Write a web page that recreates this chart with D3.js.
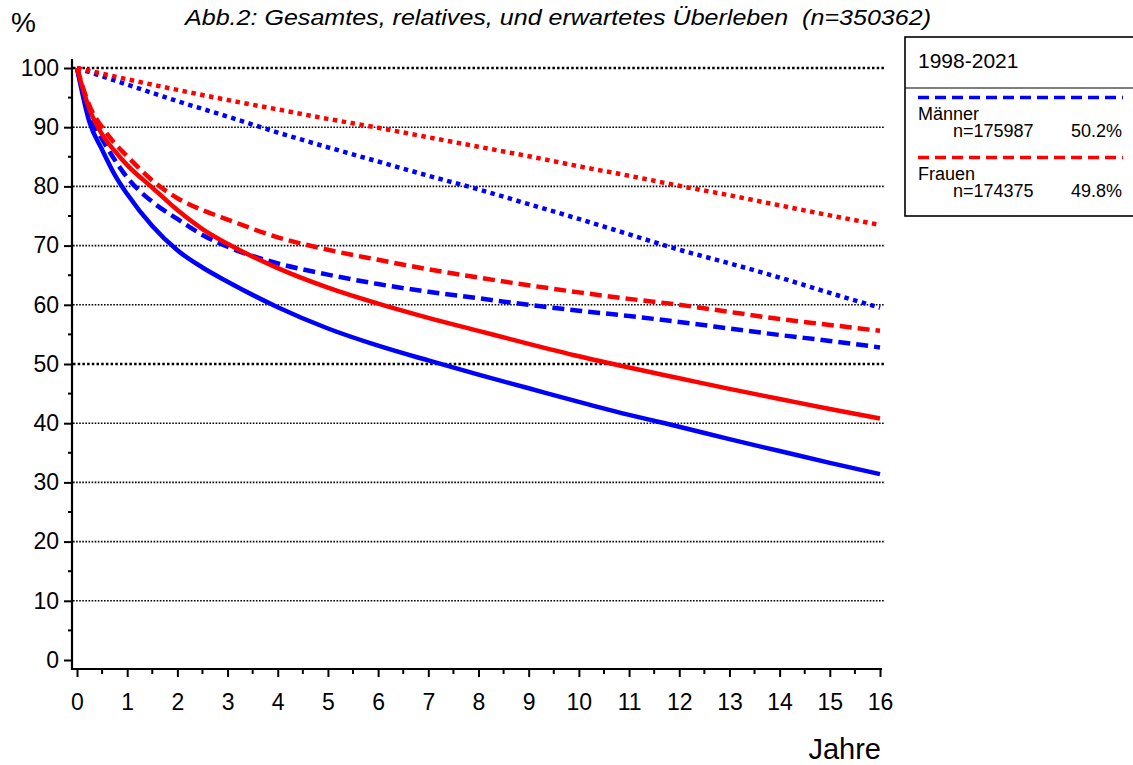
<!DOCTYPE html>
<html>
<head>
<meta charset="utf-8">
<script src="https://cdn.jsdelivr.net/npm/d3@7"></script>
<style>
  html, body { margin: 0; padding: 0; background: #fff; }
  svg { display: block; font-family: "Liberation Sans", Arial, sans-serif; }
  text { white-space: pre; }
</style>
</head>
<body>
<svg id="chart" width="1133" height="765"></svg>
<script>
// ---------- data ----------
const titleText = "Abb.2: Gesamtes, relatives, und erwartetes Überleben  (n=350362)";
const yTicks = [0, 10, 20, 30, 40, 50, 60, 70, 80, 90, 100];
const xTicks = [0, 1, 2, 3, 4, 5, 6, 7, 8, 9, 10, 11, 12, 13, 14, 15, 16];
const boldGrid = [50, 100];

const yearsFine = [0, 0.25, 0.5, 0.75, 1, 1.5, 2, 2.5, 3, 4, 5, 6, 7, 8, 9, 10, 11, 12, 13, 14, 15, 16];
const yearsInt  = [0, 1, 2, 3, 4, 5, 6, 7, 8, 9, 10, 11, 12, 13, 14, 15, 16];

// overall survival (solid)
const menOverall   = [100, 90.8, 86.2, 82.0, 78.7, 73.3, 69.2, 66.3, 63.9, 59.6, 56.0, 53.1, 50.6, 48.2, 45.9, 43.6, 41.4, 39.4, 37.3, 35.3, 33.3, 31.4];
const womenOverall = [100, 93.0, 88.8, 86.0, 83.6, 79.8, 76.0, 72.8, 70.3, 66.2, 62.9, 60.2, 57.8, 55.6, 53.4, 51.3, 49.4, 47.6, 45.8, 44.1, 42.4, 40.8];
// relative survival (dashed)
const menRelative   = [100, 92.0, 88.0, 84.5, 81.5, 77.4, 74.5, 71.8, 69.8, 67.0, 65.1, 63.5, 62.2, 61.1, 60.0, 59.0, 58.1, 57.1, 56.0, 54.9, 53.9, 52.8];
const womenRelative = [100, 93.6, 90.0, 87.3, 85.1, 81.0, 78.0, 76.0, 74.4, 71.4, 69.3, 67.6, 66.0, 64.6, 63.3, 62.1, 61.0, 60.0, 58.8, 57.6, 56.6, 55.6];
// expected survival (dotted)
const menExpected   = [100, 97.2, 94.4, 91.8, 89.1, 86.6, 84.2, 81.8, 79.5, 77.0, 74.5, 71.9, 69.3, 67.0, 64.6, 62.0, 59.5];
const womenExpected = [100, 98.1, 96.3, 94.6, 93.0, 91.4, 89.9, 88.3, 86.7, 85.1, 83.4, 81.8, 80.1, 78.5, 76.8, 75.1, 73.5];

const legendPeriod = "1998-2021";
const legendNames = ["Männer", "Frauen"];
const legendN = ["n=175987", "n=174375"];
const legendPct = ["50.2%", "49.8%"];

// ---------- drawing ----------
const svg = d3.select("#chart");
const BLUE = "#0000ff", RED = "#ff0000";
const FONT = "Liberation Sans, Arial, sans-serif";

const x = d3.scaleLinear().domain([0, 16]).range([77, 880]);
const y = d3.scaleLinear().domain([0, 100]).range([660, 68]);

// grid lines
svg.append("g").selectAll("line").data(yTicks.filter(v => v > 0)).join("line")
  .attr("x1", 73).attr("x2", 885)
  .attr("y1", d => y(d)).attr("y2", d => y(d))
  .attr("stroke", "#000")
  .attr("stroke-width", d => boldGrid.includes(d) ? 2.7 : 1.6)
  .attr("stroke-dasharray", d => boldGrid.includes(d) ? "2.5,2.2" : "1.6,1.5");

// y axis
const yAxis = d3.axisLeft(y).tickValues(yTicks).tickSize(8).tickPadding(5).tickFormat(d3.format("d"));
const gy = svg.append("g").attr("transform", "translate(72,0)").call(yAxis);
gy.select(".domain").remove();
gy.selectAll(".tick line").attr("stroke-width", 2);
gy.selectAll(".tick text").attr("font-size", 23).attr("font-family", FONT).attr("fill", "#000");
// minor y ticks
svg.append("g").selectAll("line").data(d3.range(5, 100, 10)).join("line")
  .attr("x1", 68).attr("x2", 72).attr("y1", d => y(d)).attr("y2", d => y(d))
  .attr("stroke", "#000").attr("stroke-width", 2);
svg.append("line").attr("x1", 72).attr("x2", 72).attr("y1", 59).attr("y2", 670)
  .attr("stroke", "#000").attr("stroke-width", 2.2);

// x axis
const xAxis = d3.axisBottom(x).tickValues(xTicks).tickSize(8).tickPadding(17).tickFormat(d3.format("d"));
const gx = svg.append("g").attr("transform", "translate(0,669)").call(xAxis);
gx.select(".domain").remove();
gx.selectAll(".tick line").attr("stroke-width", 2);
gx.selectAll(".tick text").attr("font-size", 23).attr("font-family", FONT).attr("fill", "#000");
svg.append("g").selectAll("line").data(d3.range(0.5, 16, 1)).join("line")
  .attr("x1", d => x(d)).attr("x2", d => x(d)).attr("y1", 669).attr("y2", 674)
  .attr("stroke", "#000").attr("stroke-width", 2);
svg.append("line").attr("x1", 71).attr("x2", 882).attr("y1", 669).attr("y2", 669)
  .attr("stroke", "#000").attr("stroke-width", 2.2);

// curves
const lineGen = d3.line().x(d => x(d[0])).y(d => y(d[1])).curve(d3.curveMonotoneX);
function drawSeries(xs, vs, color, dash) {
  svg.append("path")
    .datum(xs.map((t, i) => [t, vs[i]]))
    .attr("d", lineGen)
    .attr("fill", "none")
    .attr("stroke", color)
    .attr("stroke-width", 4.5)
    .attr("stroke-dasharray", dash);
}
drawSeries(yearsInt, menExpected, BLUE, "4.5,4.5");
drawSeries(yearsInt, womenExpected, RED, "4.5,4.5");
drawSeries(yearsFine, menRelative, BLUE, "12,6");
drawSeries(yearsFine, womenRelative, RED, "12,6");
drawSeries(yearsFine, menOverall, BLUE, null);
drawSeries(yearsFine, womenOverall, RED, null);

// labels
svg.append("text").attr("x", 11).attr("y", 32).attr("font-size", 28).attr("fill", "#000").text("%");
svg.append("text").attr("x", 558).attr("y", 25).attr("text-anchor", "middle")
  .attr("font-size", 22).attr("font-style", "italic").attr("fill", "#000")
  .attr("textLength", 746).attr("lengthAdjust", "spacingAndGlyphs")
  .text(titleText);
svg.append("text").attr("x", 881).attr("y", 759).attr("text-anchor", "end")
  .attr("font-size", 29).attr("fill", "#000").text("Jahre");

// legend
const lg = svg.append("g");
lg.append("rect").attr("x", 905).attr("y", 37).attr("width", 260).attr("height", 179)
  .attr("fill", "#fff").attr("stroke", "#000").attr("stroke-width", 1.6);
lg.append("line").attr("x1", 905).attr("x2", 1133).attr("y1", 88).attr("y2", 88)
  .attr("stroke", "#000").attr("stroke-width", 1.2);
lg.append("text").attr("x", 918).attr("y", 68).attr("font-size", 21).attr("fill", "#000").text(legendPeriod);
[BLUE, RED].forEach((c, i) => {
  const oy = i * 60;
  lg.append("line").attr("x1", 918).attr("x2", 1123).attr("y1", 97.5 + oy).attr("y2", 97.5 + oy)
    .attr("stroke", c).attr("stroke-width", 3.5).attr("stroke-dasharray", "11,6");
  lg.append("text").attr("x", 918).attr("y", 120 + oy).attr("font-size", 18).attr("fill", "#000").text(legendNames[i]);
  lg.append("text").attr("x", 953).attr("y", 137 + oy).attr("font-size", 18).attr("fill", "#000").text(legendN[i]);
  lg.append("text").attr("x", 1122).attr("y", 137 + oy).attr("text-anchor", "end").attr("font-size", 18).attr("fill", "#000").text(legendPct[i]);
});
</script>
</body>
</html>
